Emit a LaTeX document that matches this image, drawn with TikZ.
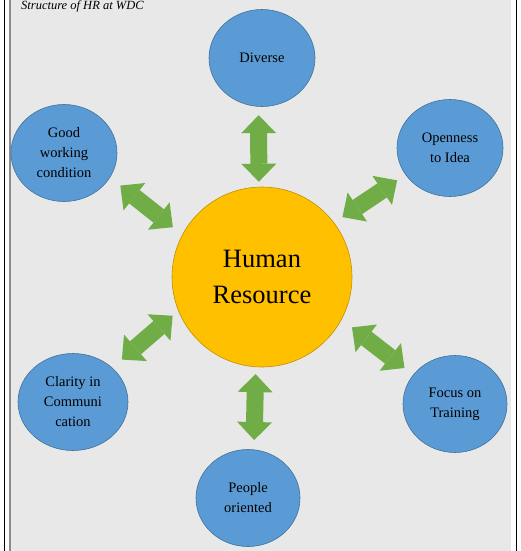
\documentclass[tikz,border=0pt]{standalone}
\usepackage{fontspec}
\setmainfont{Liberation Serif}
\usepackage{xcolor}
\usepackage{tikz}
\usetikzlibrary{arrows.meta,shapes.geometric}
\definecolor{panelc}{HTML}{E8E8E8}
\definecolor{framec}{HTML}{8C8C8C}
\definecolor{factorc}{HTML}{5B9BD5}
\definecolor{factorlinec}{HTML}{41719C}
\definecolor{corec}{HTML}{FFC000}
\definecolor{corelinec}{HTML}{BF9000}
\definecolor{linkc}{HTML}{70AD47}
\tikzset{
  factornode/.style={ellipse, draw=factorlinec, fill=factorc, line width=0.6pt,
    minimum width=106pt, minimum height=97pt, inner sep=0pt, align=center,
    font=\fontsize{14.5}{20}\selectfont},
  corenode/.style={circle, draw=corelinec, fill=corec, line width=0.6pt,
    minimum size=180pt, inner sep=0pt, align=center,
    font=\fontsize{26.5}{36}\selectfont},
  linkedge/.style={{Triangle[width=35pt,length=18pt,line width=0pt]}-{Triangle[width=35pt,length=18pt,line width=0pt]},
    draw=linkc, line width=17pt},
}

\begin{document}
\begin{tikzpicture}[x=1pt, y=-1pt]
  \useasboundingbox (0,0) rectangle (521,551);
  \fill[white] (0,0) rectangle (521,551);
  \fill[panelc] (10.5,0) rectangle (511,551);
  \draw[framec, line width=1.6pt] (9.7,0) -- (9.7,551);
  \draw[black, line width=1.3pt] (4.6,0) -- (4.6,551);
  \draw[black, line width=1.5pt] (516.5,0) -- (516.5,551);
  \node[anchor=base west, inner sep=0pt, font=\fontsize{12.5}{14}\selectfont\itshape] (title) at (21,9.5) {Structure of HR at WDC};
  \node[corenode] (hr) at (262,277) {Human\\Resource};
  \node[factornode] (diverse) at (262,58) {Diverse};
  \node[factornode] (working) at (64,153) {Good\\working\\condition};
  \node[factornode] (openness) at (450,148) {Openness\\to Idea};
  \node[factornode, minimum width=110pt] (clarity) at (73,402) {Clarity in\\Communi\\cation};
  \node[factornode, minimum width=104pt] (training) at (455,404) {Focus on\\Training};
  \node[factornode, minimum width=104pt] (people) at (248,498) {People\\oriented};
  \draw[linkedge, shorten <=5pt, shorten >=8.5pt] (hr.92) -- (diverse.-94);
  \draw[linkedge, shorten <=12pt, shorten >=13pt] (hr.152) -- (working.-28);
  \draw[linkedge, shorten <=10pt, shorten >=10pt] (hr.37) -- (openness.211);
  \draw[linkedge, shorten <=7.5pt, shorten >=12.5pt] (hr.202) -- (clarity.41);
  \draw[linkedge, shorten <=13pt, shorten >=11pt] (hr.-28) -- (training.145);
  \draw[linkedge, shorten <=7pt, shorten >=9.5pt] (hr.-94) -- (people.83);
\end{tikzpicture}
\end{document}
